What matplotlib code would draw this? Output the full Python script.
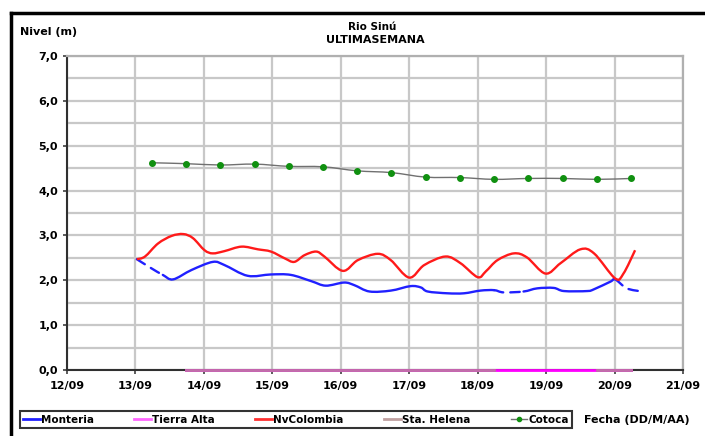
import matplotlib
matplotlib.use("Agg")
import matplotlib.pyplot as plt
from matplotlib.lines import Line2D
from matplotlib.path import Path
from matplotlib.patches import PathPatch
import numpy as np

plt.rcParams['font.family'] = ['DejaVu Sans']
plt.rcParams['font.weight'] = 'bold'

# dias de septiembre (fraccion = hora del dia)
mon_x = [13.02, 13.23, 13.40, 13.55, 13.82, 14.13, 14.30, 14.64, 14.98, 15.27, 15.57, 15.78,
         16.05, 16.20, 16.42, 16.73, 17.02, 17.17, 17.27, 17.56, 17.80, 18.04, 18.24, 18.38,
         18.67, 18.87, 19.11, 19.26, 19.60, 19.70, 19.94, 20.01, 20.18, 20.40]
mon_y = [2.47, 2.27, 2.12, 2.02, 2.23, 2.41, 2.34, 2.10, 2.13, 2.12, 1.98, 1.88,
         1.95, 1.89, 1.75, 1.77, 1.87, 1.84, 1.75, 1.71, 1.71, 1.77, 1.78, 1.73,
         1.75, 1.82, 1.83, 1.76, 1.76, 1.80, 1.97, 2.02, 1.82, 1.75]

nvc_x = [13.02, 13.14, 13.33, 13.53, 13.70, 13.84, 14.01, 14.13, 14.30, 14.55, 14.79, 14.98,
         15.18, 15.32, 15.47, 15.64, 15.76, 16.03, 16.25, 16.54, 16.73, 17.00, 17.22, 17.53,
         17.75, 18.00, 18.12, 18.29, 18.53, 18.72, 18.99, 19.21, 19.50, 19.70, 20.01, 20.13, 20.30]
nvc_y = [2.47, 2.53, 2.82, 2.99, 3.03, 2.94, 2.67, 2.60, 2.65, 2.75, 2.69, 2.64,
         2.49, 2.41, 2.56, 2.64, 2.53, 2.21, 2.45, 2.59, 2.45, 2.06, 2.34, 2.53,
         2.38, 2.07, 2.20, 2.45, 2.60, 2.51, 2.15, 2.38, 2.69, 2.60, 2.04, 2.15, 2.67]

cot_x = [13.24, 13.74, 14.24, 14.74, 15.24, 15.74, 16.24, 16.74, 17.24, 17.74, 18.24, 18.74,
         19.24, 19.74, 20.24]
cot_y = [4.62, 4.60, 4.57, 4.59, 4.54, 4.53, 4.44, 4.40, 4.30, 4.29, 4.25, 4.27, 4.27, 4.25, 4.27]

ta_x = [13.74, 14.24, 14.74, 15.24, 15.74, 16.24, 16.74, 17.24, 17.74, 18.24, 18.74, 19.24, 19.74, 20.24]
ta_y = [0, 0, 0, 0, 0, 0, 0, 0, 0, 0, 0, 0, 0, 0]
sh_y = [0, 0, 0, 0, 0, 0, 0, 0, 0, 0, np.nan, np.nan, 0, 0]

day_ticks = [12, 13, 14, 15, 16, 17, 18, 19, 20, 21]
day_labels = ['12/09', '13/09', '14/09', '15/09', '16/09', '17/09', '18/09', '19/09', '20/09', '21/09']
y_ticks = [0, 1, 2, 3, 4, 5, 6, 7]
y_labels = ['0,0', '1,0', '2,0', '3,0', '4,0', '5,0', '6,0', '7,0']

FS = 8


def smooth_path(xs, ys, i0, i1):
    # linea suavizada tipo Excel (catmull-rom -> bezier) entre los puntos i0..i1
    p = np.column_stack([xs, ys]).astype(float)
    n = len(p)
    verts = [p[i0]]
    codes = [Path.MOVETO]
    for i in range(i0, i1):
        p0 = p[max(i - 1, 0)]
        p1 = p[i]
        p2 = p[i + 1]
        p3 = p[min(i + 2, n - 1)]
        c1 = p1 + (p2 - p0) / 6.0
        c2 = p2 - (p3 - p1) / 6.0
        verts += [c1, c2, p2]
        codes += [Path.CURVE4] * 3
    return Path(verts, codes)


fig = plt.figure(figsize=(7.05, 4.36), dpi=100)
ax = fig.add_axes([67/705, 1 - 370/436, 616/705, 314/436])

ax.set_xlim(12, 21)
ax.set_ylim(0, 7)
ax.set_xticks(day_ticks)
ax.set_xticklabels(day_labels)
ax.set_yticks(y_ticks)
ax.set_yticklabels(y_labels)
ax.set_yticks(np.arange(0.5, 7, 1.0), minor=True)
ax.grid(True, which='both', color='#c8c8c8', linewidth=1.6, zorder=0)
ax.set_axisbelow(True)
ax.tick_params(axis='both', which='major', labelsize=FS, length=3, width=1.2, color='#404040')
ax.tick_params(axis='y', which='minor', length=0)
ax.tick_params(axis='x', pad=5)
for s in ['left', 'bottom']:
    ax.spines[s].set_color('#303030')
    ax.spines[s].set_linewidth(1.5)
for s in ['top', 'right']:
    ax.spines[s].set_color('#b0b0b0')
    ax.spines[s].set_linewidth(1.6)

# Monteria: tramos punteados donde faltan datos
blue = '#2020ff'
segs = [(0, 2, '--'), (2, 22, '-'), (22, 24, '--'), (24, 31, '-'), (31, 33, '--')]
for a, b, ls in segs:
    ax.add_patch(PathPatch(smooth_path(mon_x, mon_y, a, b), fill=False, edgecolor=blue,
                           lw=1.7, ls=(0, (4, 3)) if ls == '--' else '-', zorder=4,
                           capstyle='round', joinstyle='round'))

ax.plot(ta_x, ta_y, color='#ff00ff', lw=2.0, zorder=3, clip_on=False)
ax.plot(ta_x, sh_y, color='#c070a8', lw=2.0, zorder=3, clip_on=False)
ax.add_patch(PathPatch(smooth_path(nvc_x, nvc_y, 0, len(nvc_x) - 1), fill=False,
                       edgecolor='#ff1a1a', lw=1.7, zorder=5, joinstyle='round'))
ax.add_patch(PathPatch(smooth_path(cot_x, cot_y, 0, len(cot_x) - 1), fill=False,
                       edgecolor='#707070', lw=1.0, zorder=5))
ax.plot(cot_x, cot_y, ls='none', marker='o', ms=4, color='#109010', zorder=6)

fig.text(372/705, 1 - 27/436, 'Rio Sinú', ha='center', va='center', fontsize=FS - 0.5, fontweight='bold')
fig.text(375/705, 1 - 40/436, 'ULTIMASEMANA', ha='center', va='center', fontsize=FS, fontweight='bold')
fig.text(20/705, 1 - 32/436, 'Nivel (m)', ha='left', va='center', fontsize=FS, fontweight='bold')
fig.text(584/705, 1 - 420/436, 'Fecha (DD/M/AA)', ha='left', va='center', fontsize=FS, fontweight='bold')

# marco exterior
fig.add_artist(Line2D([11/705, 11/705], [0, 1 - 13/436], color='black', lw=2.5))
fig.add_artist(Line2D([11/705, 1], [1 - 13/436, 1 - 13/436], color='black', lw=2.5))

handles = [
    Line2D([], [], color=blue, lw=2),
    Line2D([], [], color='#ff66ff', lw=2),
    Line2D([], [], color='#ff3030', lw=2),
    Line2D([], [], color='#c0a0a0', lw=2),
    Line2D([], [], color='#707070', lw=1, marker='o', ms=3, mfc='#109010', mec='#109010'),
]
names = ['Monteria', 'Tierra Alta', 'NvColombia', 'Sta. Helena', 'Cotoca']
leg = fig.legend(handles, names, loc='center', ncol=5, mode='expand',
                 bbox_to_anchor=(20/705, 6/436, 552/705, 21/436), borderaxespad=0,
                 fontsize=FS - 0.5, handlelength=1.6, handletextpad=0.1, fancybox=False,
                 frameon=True, edgecolor='black', borderpad=0.3)
leg.get_frame().set_linewidth(1.5)

fig.savefig('out.png', dpi=100)
